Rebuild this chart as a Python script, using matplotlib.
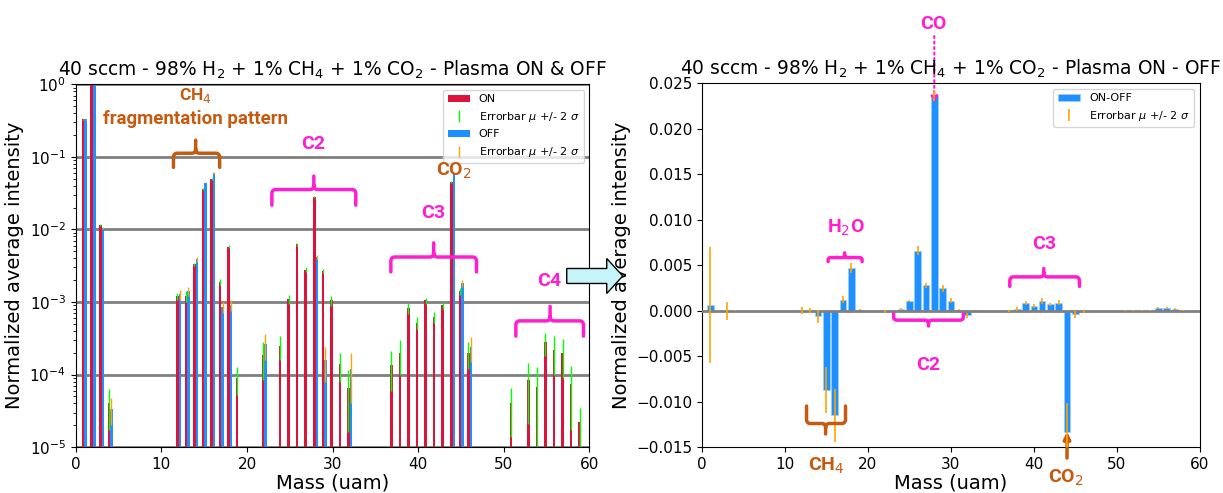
import numpy as np
import matplotlib.pyplot as plt
from matplotlib.path import Path
from matplotlib.patches import PathPatch, FancyArrow

ORANGE = "#C55A11"
MAGENTA = "#FF1FCF"
ANNOT_FONT = "Roboto"

### Plasma ON (normalized average intensity, errorbar = 2 sigma)
mass_on = [1, 2, 3, 4, 12, 13, 14, 15, 16, 17, 18, 19,
           22, 24, 25, 26, 27, 28, 29, 30, 31, 32,
           37, 38, 39, 40, 41, 42, 43, 44, 45, 46,
           51, 53, 54, 55, 56, 57, 58, 59]
on_vals = [0.33, 1.0, 0.0115, 4.0e-5, 1.2e-3, 1.2e-3, 3.3e-3, 0.036, 0.050, 1.9e-3, 5.8e-3, 9.0e-5,
           1.85e-4, 2.5e-4, 1.1e-3, 6.3e-3, 2.8e-3, 0.028, 2.7e-3, 1.05e-3, 1.4e-4, 6.6e-5,
           1.35e-4, 2.0e-4, 8.3e-4, 5.2e-4, 1.05e-3, 6.2e-4, 9.0e-4, 0.045, 1.4e-3, 2.0e-4,
           4.0e-5, 8.3e-5, 6.8e-5, 2.8e-4, 2.2e-4, 2.0e-4, 7.5e-5, 2.2e-5]
on_err = [3e-3, 5e-3, 3e-4, 2.3e-5, 1.5e-4, 2.0e-4, 2.0e-4, 1.0e-3, 1.5e-3, 2.0e-4, 3.0e-4, 3.7e-5,
          1.0e-4, 9.0e-5, 1.5e-4, 3.0e-4, 2.0e-4, 8.0e-4, 1.5e-4, 1.6e-4, 6.0e-5, 5.0e-5,
          7.5e-5, 1.0e-4, 1.4e-4, 1.0e-4, 1.0e-4, 1.1e-4, 1.0e-4, 1.0e-3, 1.5e-4, 8.0e-5,
          2.6e-5, 6.2e-5, 6.0e-5, 1.0e-4, 1.2e-4, 1.1e-4, 5.8e-5, 1.3e-5]

### Plasma OFF
mass_off = [1, 2, 3, 4, 12, 13, 14, 15, 16, 17, 18, 22, 28, 29, 32, 44, 45, 46]
off_vals = [0.33, 1.0, 0.0105, 3.4e-5, 1.27e-3, 1.4e-3, 3.9e-3, 0.044, 0.060, 8.6e-4, 9.0e-4,
            2.6e-4, 4.2e-3, 1.6e-4, 1.2e-4, 0.059, 1.8e-3, 2.4e-4]
off_err = [3e-3, 5e-3, 3e-4, 1.4e-5, 2.0e-4, 2.0e-4, 3.0e-4, 1.0e-3, 1.5e-3, 1.5e-4, 1.5e-4,
           1.0e-4, 3.0e-4, 8.0e-5, 8.0e-5, 1.5e-3, 2.0e-4, 9.0e-5]

### ON - OFF
mass_diff = [1, 3, 4, 12, 13, 14, 15, 16, 17, 18, 19,
             22, 24, 25, 26, 27, 28, 29, 30, 31, 32,
             37, 38, 39, 40, 41, 42, 43, 44, 45, 46,
             51, 52, 53, 54, 55, 56, 57, 58]
diff_vals = [0.0006, 0.0, 0.0, 0.0, 0.0, -0.0006, -0.0087, -0.0115, 0.0012, 0.0047, 0.0001,
             -0.0001, 0.0002, 0.00106, 0.0066, 0.0028, 0.0237, 0.00245, 0.0011, 0.0001, -0.0005,
             0.0, 0.0002, 0.00084, 0.0005, 0.00106, 0.0007, 0.00088, -0.0133, -0.0004, -0.0001,
             0.0, 0.0, 0.0, 0.0, 0.00026, 0.00026, 0.0002, 0.0]
diff_err = [0.0064, 0.001, 0.00008, 0.0004, 0.0003, 0.0007, 0.0025, 0.0029, 0.0004, 0.0006, 0.00005,
            0.0002, 0.00005, 0.00015, 0.0005, 0.0003, 0.0006, 0.0004, 0.0003, 0.00005, 0.0003,
            0.0001, 0.0002, 0.0002, 0.0002, 0.0003, 0.0002, 0.0003, 0.0031, 0.0004, 0.00015,
            0.00005, 0.00005, 0.00005, 0.00005, 0.0001, 0.0001, 0.0001, 0.00005]

err_label = r"Errorbar $\mu$ +/- 2 $\sigma$"


def brace(ax, x0, x1, xc, y, yend, ytip, color, rx=0.45, ry=0.012):
    # curly-ish bracket: x in data units, y in axes fraction
    s = 1 if yend > y else -1
    t = 1 if ytip > y else -1
    verts = [(x0, yend), (x0, y + s * ry), (x0, y), (x0 + rx, y),
             (xc - rx, y), (xc, y), (xc, y + t * ry), (xc, ytip),
             (xc, y + t * ry), (xc, y), (xc + rx, y),
             (x1 - rx, y), (x1, y), (x1, y + s * ry), (x1, yend)]
    codes = [Path.MOVETO, Path.LINETO, Path.CURVE3, Path.CURVE3,
             Path.LINETO, Path.CURVE3, Path.CURVE3, Path.LINETO,
             Path.MOVETO, Path.CURVE3, Path.CURVE3,
             Path.LINETO, Path.CURVE3, Path.CURVE3, Path.LINETO]
    ax.add_patch(PathPatch(Path(verts, codes), fill=False, ec=color, lw=2.5,
                           transform=ax.get_xaxis_transform(), clip_on=False,
                           capstyle="round", joinstyle="round", zorder=6))


def label(ax, x, y, s, color, size=14):
    ax.text(x, y, s, color=color, fontsize=size, fontweight="bold", family=ANNOT_FONT,
            ha="center", va="center", transform=ax.get_xaxis_transform(), clip_on=False,
            zorder=12)


fig = plt.figure(figsize=(12.23, 4.93), dpi=100)
ax1 = fig.add_axes([0.062, 0.093, 0.420, 0.736])
ax2 = fig.add_axes([0.574, 0.093, 0.407, 0.738])

### Left: ON & OFF, log scale
m_on = np.array(mass_on)
m_off = np.array(mass_off)
b1 = ax1.bar(m_on - 0.15, on_vals, width=0.3, color="crimson", log=True, zorder=2)
e1 = ax1.errorbar(m_on - 0.15, on_vals, yerr=on_err, fmt="none", ecolor="lime",
                  elinewidth=1.0, zorder=3)
b2 = ax1.bar(m_off + 0.15, off_vals, width=0.3, color="dodgerblue", log=True, zorder=2)
e2 = ax1.errorbar(m_off + 0.15, off_vals, yerr=off_err, fmt="none", ecolor="orange",
                  elinewidth=1.0, zorder=3)
ax1.set_ylim(1e-5, 1)
ax1.set_xlim(0, 60)
ax1.set_xticks(np.arange(0, 61, 10))
ax1.yaxis.grid(True, which="major", color="gray", lw=2)
ax1.set_axisbelow(True)
ax1.tick_params(labelsize=11)
ax1.set_xlabel("Mass (uam)", fontsize=14, labelpad=1)
ax1.set_ylabel("Normalized average intensity", fontsize=14)
ax1.set_title("40 sccm - 98% H$_2$ + 1% CH$_4$ + 1% CO$_2$ - Plasma ON & OFF", fontsize=13.4)
ax1.legend([b1, e1, b2, e2], ["ON", err_label, "OFF", err_label], loc="upper right",
           fontsize=8)

brace(ax1, 11.4, 16.8, 14.0, 0.810, 0.771, 0.846, ORANGE)
label(ax1, 14.0, 0.968, "CH$_4$", ORANGE, 12.5)
label(ax1, 14.0, 0.905, "fragmentation pattern", ORANGE, 13.5)
brace(ax1, 22.9, 32.7, 27.8, 0.710, 0.667, 0.747, MAGENTA)
label(ax1, 27.7, 0.835, "C2", MAGENTA)
label(ax1, 44.2, 0.762, "CO$_2$", ORANGE)
brace(ax1, 36.8, 46.8, 41.8, 0.524, 0.483, 0.563, MAGENTA)
label(ax1, 41.8, 0.645, "C3", MAGENTA)
brace(ax1, 51.4, 59.3, 55.4, 0.348, 0.306, 0.388, MAGENTA)
label(ax1, 55.3, 0.457, "C4", MAGENTA)

### Right: ON - OFF
b3 = ax2.bar(mass_diff, diff_vals, width=0.8, color="dodgerblue", edgecolor="#9fd0ff",
             lw=0.5, zorder=2)
e3 = ax2.errorbar(mass_diff, diff_vals, yerr=diff_err, fmt="none", ecolor="orange",
                  elinewidth=1.2, zorder=4)
ax2.axhline(0, color="gray", lw=2, zorder=3)
ax2.set_xlim(0, 60)
ax2.set_ylim(-0.015, 0.025)
ax2.set_xticks(np.arange(0, 61, 10))
ax2.set_yticks(np.arange(-0.015, 0.0251, 0.005))
ax2.yaxis.set_major_formatter("{x:.3f}")
ax2.tick_params(labelsize=11)
ax2.set_xlabel("Mass (uam)", fontsize=14, labelpad=1)
ax2.set_ylabel("Normalized average intensity", fontsize=14)
ax2.set_title("40 sccm - 98% H$_2$ + 1% CH$_4$ + 1% CO$_2$ - Plasma ON - OFF", fontsize=13.4)
ax2.legend([b3, e3], ["ON-OFF", err_label], loc="upper right", fontsize=8)

label(ax2, 27.9, 1.162, "CO", MAGENTA)
ax2.annotate("", xy=(28, 0.0228), xycoords="data", xytext=(28, 1.13),
             textcoords=("data", "axes fraction"), annotation_clip=False,
             arrowprops=dict(arrowstyle="-|>", color=MAGENTA, lw=1.5, ls=":",
                             shrinkA=0, shrinkB=0))
brace(ax2, 15.2, 19.3, 17.2, 0.521, 0.510, 0.534, MAGENTA, rx=0.3, ry=0.006)
label(ax2, 17.3, 0.602, "H$_2$O", MAGENTA)
brace(ax2, 12.6, 17.3, 14.9, 0.065, 0.113, 0.036, ORANGE)
label(ax2, 15.0, -0.052, "CH$_4$", ORANGE)
brace(ax2, 23.1, 31.5, 27.3, 0.349, 0.367, 0.333, MAGENTA, ry=0.008)
label(ax2, 27.3, 0.227, "C2", MAGENTA)
brace(ax2, 37.1, 45.5, 41.2, 0.468, 0.442, 0.491, MAGENTA)
label(ax2, 41.2, 0.558, "C3", MAGENTA)
ax2.annotate("", xy=(44, -0.0133), xycoords="data", xytext=(44, -0.03),
             textcoords=("data", "axes fraction"), annotation_clip=False,
             arrowprops=dict(arrowstyle="-|>", color=ORANGE, lw=2.5,
                             shrinkA=0, shrinkB=0))
label(ax2, 43.9, -0.085, "CO$_2$", ORANGE)

# block arrow between the two panels
arrow = FancyArrow(0.4634, 0.4402, 0.0458, 0, width=0.0304, head_width=0.071,
                   head_length=0.0131, length_includes_head=True, transform=fig.transFigure,
                   facecolor="#C5F5F8", edgecolor="black", lw=1, zorder=10)
fig.patches.append(arrow)

fig.savefig("out.png", dpi=100)
